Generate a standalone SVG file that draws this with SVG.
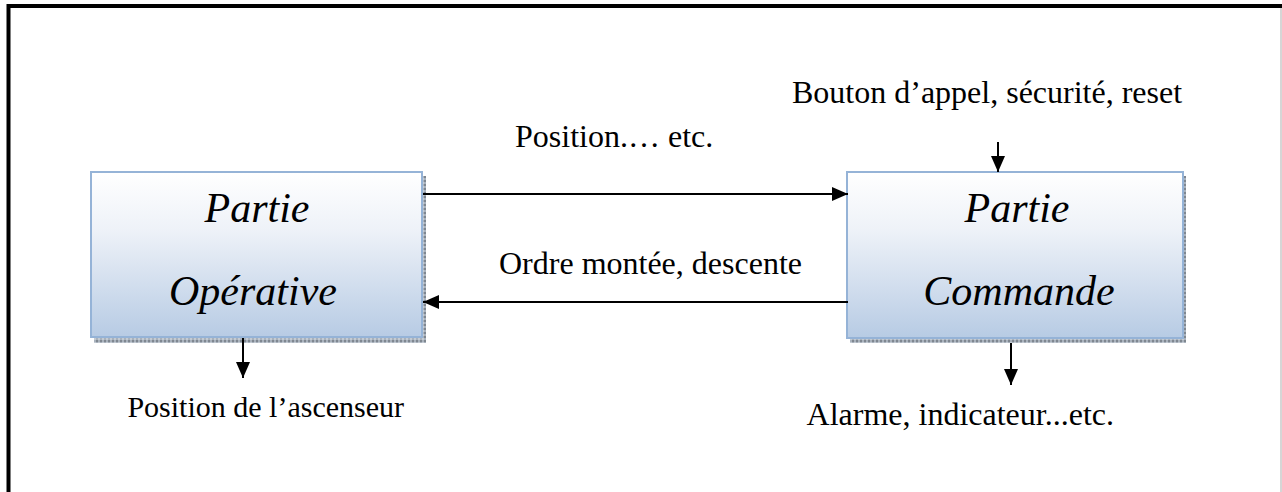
<svg xmlns="http://www.w3.org/2000/svg" width="1282" height="492" viewBox="0 0 1282 492">
  <defs>
    <linearGradient id="boxFill" x1="0" y1="0" x2="0" y2="1">
      <stop offset="0" stop-color="#ffffff"/>
      <stop offset="0.35" stop-color="#eef2f8"/>
      <stop offset="1" stop-color="#b7cbe4"/>
    </linearGradient>
    <pattern id="shadowDots" width="4" height="4" patternUnits="userSpaceOnUse">
      <rect width="4" height="4" fill="#a9b2bd"/>
      <rect width="2" height="2" fill="#7f8790"/>
      <rect x="2" y="2" width="2" height="2" fill="#c4cbd3"/>
    </pattern>
    <marker id="arrow" viewBox="0 0 16 14" refX="16" refY="7" markerWidth="16" markerHeight="14" markerUnits="userSpaceOnUse" orient="auto">
      <path d="M0,0 L16,7 L0,14 Z" fill="#000"/>
    </marker>
  </defs>
  <style>
    .box { fill: url(#boxFill); stroke: #95b3d7; stroke-width: 2; }
    .shadow { fill: url(#shadowDots); }
    .title { font-family: "Liberation Serif", "Times New Roman", serif; font-style: italic; font-size: 42px; fill: #000; text-anchor: middle; }
    .label { font-family: "Liberation Serif", "Times New Roman", serif; font-size: 32px; fill: #000; }
    .link { stroke: #000; stroke-width: 2; fill: none; marker-end: url(#arrow); }
  </style>

  <rect width="1282" height="492" fill="#ffffff"/>

  <!-- page frame -->
  <path d="M8.5,492 V6 H1282" fill="none" stroke="#000" stroke-width="4"/>
  <line x1="1281" y1="8" x2="1281" y2="492" stroke="#c8c8c8" stroke-width="1.5"/>

  <!-- operative part -->
  <g id="partie-operative">
    <rect class="shadow" x="94" y="176" width="332" height="167"/>
    <rect class="box" x="91" y="172" width="331" height="165"/>
    <text class="title" x="257" y="222">Partie</text>
    <text class="title" x="253" y="305">Opérative</text>
  </g>

  <!-- command part -->
  <g id="partie-commande">
    <rect class="shadow" x="850" y="176" width="336" height="167"/>
    <rect class="box" x="847" y="172" width="336" height="166"/>
    <text class="title" x="1017" y="222">Partie</text>
    <text class="title" x="1019" y="305">Commande</text>
  </g>

  <!-- signals -->
  <g id="connectors">
    <line class="link" x1="423" y1="194" x2="848" y2="194"/>
    <line class="link" x1="848" y1="302" x2="423" y2="302"/>
    <line class="link" x1="998" y1="142" x2="998" y2="172"/>
    <line class="link" x1="243" y1="338" x2="243" y2="378"/>
    <line class="link" x1="1011" y1="343" x2="1011" y2="385"/>
  </g>

  <g id="labels">
    <text class="label" x="792" y="103">Bouton d’appel, sécurité, reset</text>
    <text class="label" x="515" y="147">Position.… etc.</text>
    <text class="label" x="499" y="274">Ordre montée, descente</text>
    <text class="label" x="404" y="417" text-anchor="end" style="font-size:30px">Position de l’ascenseur</text>
    <text class="label" x="1114" y="425" text-anchor="end">Alarme, indicateur...etc.</text>
  </g>
</svg>
